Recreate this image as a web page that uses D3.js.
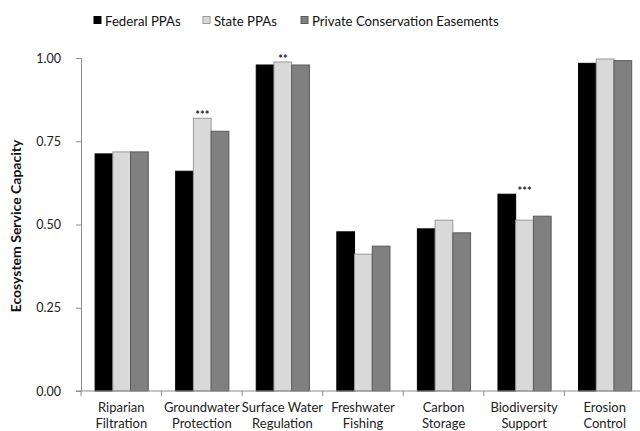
<!DOCTYPE html>
<html>
<head>
<meta charset="utf-8">
<script src="https://cdn.jsdelivr.net/npm/d3@7"></script>
<style>
  html, body { margin: 0; padding: 0; background: #fff; }
  svg { display: block; font-family: Lato, "Open Sans", sans-serif; }
</style>
</head>
<body>
<svg id="chart" width="640" height="431"></svg>
<script>
// Ecosystem service capacity by protection type
const categories = [
  "Riparian Filtration",
  "Groundwater Protection",
  "Surface Water Regulation",
  "Freshwater Fishing",
  "Carbon Storage",
  "Biodiversity Support",
  "Erosion Control"
];
const seriesNames = ["Federal PPAs", "State PPAs", "Private Conservation Easements"];
const federal = [0.712, 0.660, 0.979, 0.478, 0.487, 0.591, 0.984];
const state   = [0.718, 0.819, 0.988, 0.411, 0.513, 0.513, 0.997];
const privateEase = [0.718, 0.780, 0.979, 0.435, 0.475, 0.525, 0.992];
const significance = ["", "***", "**", "", "", "***", ""];
const yTicks = [0, 0.25, 0.5, 0.75, 1.0];

const seriesValues = [federal, state, privateEase];
const fills = ["#000000", "#d9d9d9", "#808080"];
const strokes = ["#000000", "#9a9a9a", "#5a5a5a"];

const svg = d3.select("#chart");
const axisColor = "#8c8c8c";

const x = d3.scaleBand().domain(categories).range([81, 645]).padding(0);
const xs = d3.scaleBand().domain(seriesNames)
  .range([x.bandwidth() * 0.175, x.bandwidth() * 0.835]).padding(0);
const y = d3.scaleLinear().domain([0, 1]).range([391, 58]);

// bars
const groups = svg.append("g").selectAll("g")
  .data(categories)
  .join("g")
  .attr("transform", d => `translate(${x(d)},0)`);

groups.selectAll("rect")
  .data((c, i) => seriesNames.map((s, k) => ({ s, k, v: seriesValues[k][i] })))
  .join("rect")
  .attr("x", d => xs(d.s))
  .attr("width", xs.bandwidth())
  .attr("y", d => y(d.v))
  .attr("height", d => y(0) - y(d.v))
  .attr("fill", d => fills[d.k])
  .attr("stroke", d => strokes[d.k])
  .attr("stroke-width", 1);

// significance markers above each group
groups.append("text")
  .text((c, i) => significance[i])
  .attr("x", x.bandwidth() / 2 + 0.5)
  .attr("y", (c, i) => y(d3.max(seriesValues, s => s[i])) + 1)
  .attr("text-anchor", "middle")
  .attr("font-size", 11)
  .attr("font-weight", "bold")
  .attr("fill", "#222");

// y axis
const yAxis = svg.append("g")
  .attr("transform", "translate(81,0)")
  .call(d3.axisLeft(y).tickValues(yTicks).tickFormat(d3.format(".2f")).tickSize(5).tickSizeOuter(0));
yAxis.select(".domain").attr("stroke", axisColor);
yAxis.selectAll(".tick line").attr("stroke", axisColor);
yAxis.selectAll(".tick text")
  .attr("font-family", "Lato, sans-serif")
  .attr("font-size", 12.5)
  .attr("fill", "#222")
  .attr("x", -20);

// x axis with ticks at category boundaries
const xAxis = svg.append("g").attr("transform", "translate(0,391)");
xAxis.append("line")
  .attr("x1", 76).attr("x2", 645)
  .attr("stroke", axisColor);
xAxis.selectAll("line.sep")
  .data(categories.concat(["end"]))
  .join("line")
  .attr("class", "sep")
  .attr("x1", (d, i) => x.range()[0] + i * x.bandwidth())
  .attr("x2", (d, i) => x.range()[0] + i * x.bandwidth())
  .attr("y1", 0).attr("y2", 5)
  .attr("stroke", axisColor);

// category labels on two lines
const labels = svg.append("g").selectAll("text")
  .data(categories)
  .join("text")
  .attr("text-anchor", "middle")
  .attr("font-size", 13)
  .attr("fill", "#222")
  .attr("x", d => x(d) + x.bandwidth() / 2);
labels.each(function (d) {
  const cut = d.lastIndexOf(" ");
  const lines = [d.slice(0, cut), d.slice(cut + 1)];
  d3.select(this).selectAll("tspan")
    .data(lines)
    .join("tspan")
    .attr("x", x(d) + x.bandwidth() / 2)
    .attr("y", (l, j) => 412 + j * 15.5)
    .text(l => l);
});

// y axis title
svg.append("text")
  .attr("transform", "translate(21,226) rotate(-90)")
  .attr("text-anchor", "middle")
  .attr("font-size", 14)
  .attr("font-weight", "bold")
  .attr("fill", "#111")
  .text("Ecosystem Service Capacity");

// legend
const legendX = [94, 203, 301];
const legend = svg.append("g").selectAll("g")
  .data(seriesNames)
  .join("g")
  .attr("transform", (d, i) => `translate(${legendX[i]},0)`);
legend.append("rect")
  .attr("x", 0).attr("y", 16.5)
  .attr("width", 7).attr("height", 7)
  .attr("fill", (d, i) => fills[i])
  .attr("stroke", (d, i) => strokes[i]);
legend.append("text")
  .attr("x", 11).attr("y", 25.5)
  .attr("font-size", 13.2)
  .attr("fill", "#111")
  .text(d => d);
</script>
</body>
</html>
